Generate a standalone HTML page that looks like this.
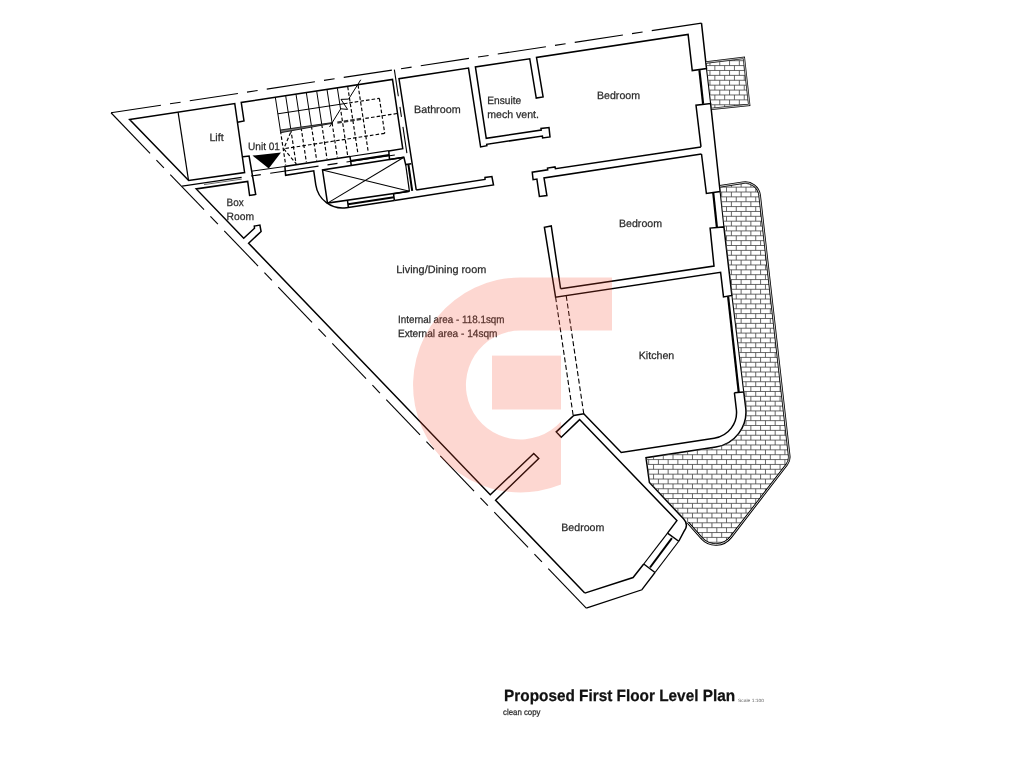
<!DOCTYPE html>
<html><head><meta charset="utf-8"><title>Proposed First Floor Level Plan</title>
<style>html,body{margin:0;padding:0;background:#fff;font-family:"Liberation Sans",sans-serif}svg{display:block;will-change:transform}text{text-rendering:geometricPrecision}</style></head>
<body>
<svg width="1024" height="768" viewBox="0 0 1024 768" font-family="Liberation Sans, sans-serif" stroke-linecap="butt" stroke-linejoin="miter"><defs><clipPath id="c1"><path d="M706.2,62.5 L743.9,57.9 L749.2,104.9 L711.8,108.8 Z"/></clipPath><clipPath id="c2"><path d="M720.09,186.29 L742.97,182.70 A14.50,14.50 0 0 1 759.64,195.39 L789.18,455.84 A12.00,12.00 0 0 1 786.77,464.52 L730.86,537.10 A19.00,19.00 0 0 1 701.85,538.40 L687.94,522.69 L649.4,482.5 L646,457.75 L715.9,447 A35.5,35.5 0 0 0 745.7,407.7 L743.75,391.9 L731.9,295.5 L723.9,226.9 L720.1,191.5 Z"/></clipPath><filter id="gs" x="0" y="0" width="1024" height="768" filterUnits="userSpaceOnUse"><feColorMatrix type="saturate" values="0"/></filter></defs>
<line x1="111.00" y1="112.75" x2="160.90" y2="105.17" stroke="#000" stroke-width="1.1" />
<line x1="170.00" y1="103.79" x2="180.60" y2="102.18" stroke="#000" stroke-width="1.1" />
<line x1="189.75" y1="100.79" x2="237.90" y2="93.48" stroke="#000" stroke-width="1.1" />
<line x1="247.00" y1="92.10" x2="257.60" y2="90.49" stroke="#000" stroke-width="1.1" />
<line x1="266.75" y1="89.10" x2="314.90" y2="81.79" stroke="#000" stroke-width="1.1" />
<line x1="324.00" y1="80.41" x2="334.60" y2="78.80" stroke="#000" stroke-width="1.1" />
<line x1="343.75" y1="77.41" x2="391.90" y2="70.10" stroke="#000" stroke-width="1.1" />
<line x1="401.00" y1="68.72" x2="411.60" y2="67.11" stroke="#000" stroke-width="1.1" />
<line x1="420.75" y1="65.72" x2="468.90" y2="58.41" stroke="#000" stroke-width="1.1" />
<line x1="478.00" y1="57.03" x2="488.60" y2="55.42" stroke="#000" stroke-width="1.1" />
<line x1="497.75" y1="54.03" x2="545.90" y2="46.72" stroke="#000" stroke-width="1.1" />
<line x1="555.00" y1="45.34" x2="565.60" y2="43.73" stroke="#000" stroke-width="1.1" />
<line x1="574.75" y1="42.34" x2="622.90" y2="35.03" stroke="#000" stroke-width="1.1" />
<line x1="632.00" y1="33.65" x2="642.60" y2="32.04" stroke="#000" stroke-width="1.1" />
<line x1="651.75" y1="30.65" x2="701.50" y2="23.10" stroke="#000" stroke-width="1.1" />
<line x1="111.00" y1="112.75" x2="150.05" y2="153.45" stroke="#000" stroke-width="1.1" />
<line x1="156.42" y1="160.09" x2="163.89" y2="167.88" stroke="#000" stroke-width="1.1" />
<line x1="170.26" y1="174.52" x2="204.05" y2="209.73" stroke="#000" stroke-width="1.1" />
<line x1="210.42" y1="216.37" x2="217.89" y2="224.16" stroke="#000" stroke-width="1.1" />
<line x1="224.26" y1="230.80" x2="258.05" y2="266.02" stroke="#000" stroke-width="1.1" />
<line x1="264.42" y1="272.66" x2="271.89" y2="280.45" stroke="#000" stroke-width="1.1" />
<line x1="278.26" y1="287.09" x2="312.05" y2="322.30" stroke="#000" stroke-width="1.1" />
<line x1="318.42" y1="328.94" x2="325.89" y2="336.73" stroke="#000" stroke-width="1.1" />
<line x1="332.26" y1="343.37" x2="366.05" y2="378.59" stroke="#000" stroke-width="1.1" />
<line x1="372.42" y1="385.22" x2="379.90" y2="393.02" stroke="#000" stroke-width="1.1" />
<line x1="386.26" y1="399.66" x2="420.05" y2="434.87" stroke="#000" stroke-width="1.1" />
<line x1="426.42" y1="441.51" x2="433.90" y2="449.30" stroke="#000" stroke-width="1.1" />
<line x1="440.27" y1="455.94" x2="474.05" y2="491.15" stroke="#000" stroke-width="1.1" />
<line x1="480.42" y1="497.79" x2="487.90" y2="505.59" stroke="#000" stroke-width="1.1" />
<line x1="494.27" y1="512.23" x2="528.05" y2="547.44" stroke="#000" stroke-width="1.1" />
<line x1="534.42" y1="554.08" x2="541.90" y2="561.87" stroke="#000" stroke-width="1.1" />
<line x1="548.27" y1="568.51" x2="586.25" y2="608.10" stroke="#000" stroke-width="1.1" />
<line x1="182.10" y1="186.10" x2="241.60" y2="177.40" stroke="#000" stroke-width="1.1" />
<line x1="251.00" y1="176.03" x2="260.80" y2="174.59" stroke="#000" stroke-width="1.1" />
<line x1="270.20" y1="173.22" x2="318.50" y2="166.16" stroke="#000" stroke-width="1.1" />
<line x1="327.50" y1="164.84" x2="337.50" y2="163.38" stroke="#000" stroke-width="1.1" />
<line x1="346.50" y1="162.06" x2="394.80" y2="155.00" stroke="#000" stroke-width="1.1" />
<line x1="204.00" y1="184.60" x2="241.80" y2="179.10" stroke="#000" stroke-width="0.6" />
<line x1="394.35" y1="69.70" x2="398.34" y2="96.25" stroke="#000" stroke-width="1.1" />
<line x1="399.94" y1="106.90" x2="401.44" y2="116.90" stroke="#000" stroke-width="1.1" />
<line x1="402.94" y1="126.90" x2="406.88" y2="153.20" stroke="#000" stroke-width="1.1" />
<polygon points="129.60,119.50 234.75,103.50 244.60,172.50 188.65,180.50" fill="none" stroke="#000" stroke-width="1.5" />
<line x1="178.10" y1="112.25" x2="188.50" y2="180.25" stroke="#000" stroke-width="1.25" />
<polyline points="237.50,122.25 244.00,121.00 241.25,102.50 392.50,79.40 402.75,148.75 388.75,151.00" fill="none" stroke="#000" stroke-width="1.5" />
<polyline points="243.00,156.75 249.10,156.10 255.70,194.50 249.60,195.50 247.70,181.40 196.20,188.90 243.70,238.25 254.50,228.20 254.30,226.10 259.90,225.10 261.10,231.50 248.60,243.20 490.25,494.75 533.75,453.50 538.75,458.50 495.60,500.25 584.75,593.10" fill="none" stroke="#000" stroke-width="1.5" />
<line x1="251.50" y1="171.20" x2="284.75" y2="166.50" stroke="#000" stroke-width="1.0" />
<polyline points="350.00,156.50 284.90,166.40 285.60,175.30 313.75,170.80 315.80,185.00" fill="none" stroke="#000" stroke-width="1.5" />
<path d="M315.8,185 A27,27 0 0 0 346.5,207.7 L394.4,200.4" fill="none" stroke="#000" stroke-width="1.5" />
<polyline points="403.90,157.30 322.50,170.00 327.50,203.10 409.40,191.20" fill="none" stroke="#000" stroke-width="1.5" />
<line x1="322.50" y1="170.00" x2="409.40" y2="191.20" stroke="#000" stroke-width="1.1" />
<line x1="327.50" y1="203.10" x2="403.90" y2="157.30" stroke="#000" stroke-width="1.1" />
<line x1="350.00" y1="156.50" x2="388.75" y2="150.70" stroke="#000" stroke-width="1.2000000000000002" />
<line x1="350.60" y1="160.90" x2="389.10" y2="155.10" stroke="#000" stroke-width="2.0" />
<line x1="350.00" y1="156.50" x2="351.30" y2="165.60" stroke="#000" stroke-width="1.5" />
<line x1="388.75" y1="150.70" x2="389.50" y2="159.50" stroke="#000" stroke-width="1.5" />
<polyline points="389.50,159.50 403.90,157.30 405.70,164.60 411.30,163.80" fill="none" stroke="#000" stroke-width="1.5" />
<line x1="347.50" y1="200.60" x2="348.40" y2="207.40" stroke="#000" stroke-width="1.5" />
<line x1="393.50" y1="193.75" x2="394.40" y2="200.40" stroke="#000" stroke-width="1.5" />
<line x1="348.00" y1="204.20" x2="393.90" y2="197.20" stroke="#000" stroke-width="2.0" />
<line x1="405.70" y1="164.60" x2="409.40" y2="191.20" stroke="#000" stroke-width="1.2000000000000002" />
<line x1="408.40" y1="164.30" x2="412.20" y2="190.80" stroke="#000" stroke-width="2.0" />
<line x1="393.50" y1="193.75" x2="409.40" y2="191.30" stroke="#000" stroke-width="1.5" />
<polyline points="416.25,190.00 399.00,78.75 468.50,68.10 480.60,146.90 486.90,145.70 486.70,144.30 542.40,136.00 542.60,137.90 550.00,136.90 549.00,127.50 541.00,128.50 541.25,130.10 486.25,138.30 475.40,66.90 529.75,58.75 536.25,98.10 543.10,96.90 536.50,57.50 688.10,34.40 692.25,70.60 706.50,68.60 701.50,23.10" fill="none" stroke="#000" stroke-width="1.5" />
<polyline points="416.25,190.00 485.00,179.40 485.00,177.50 491.90,176.50 493.50,185.00 394.40,200.40" fill="none" stroke="#000" stroke-width="1.5" />
<polyline points="701.00,146.90 555.40,168.75 555.00,166.90 547.50,168.10 547.70,169.80 532.25,172.25 533.10,179.75 536.90,179.10 539.40,196.50 546.90,195.60 544.00,177.90 701.50,154.00" fill="none" stroke="#000" stroke-width="1.5" />
<line x1="699.40" y1="70.20" x2="703.10" y2="103.90" stroke="#000" stroke-width="2.2" />
<line x1="706.50" y1="68.60" x2="710.60" y2="103.50" stroke="#000" stroke-width="1.1" />
<polyline points="701.00,146.90 696.00,105.25 710.60,103.50 720.10,191.50 706.40,193.50 701.50,154.00" fill="none" stroke="#000" stroke-width="1.5" />
<line x1="713.25" y1="193.00" x2="716.90" y2="227.30" stroke="#000" stroke-width="2.2" />
<line x1="720.10" y1="191.50" x2="723.90" y2="226.90" stroke="#000" stroke-width="1.1" />
<polyline points="560.60,288.75 551.25,226.00 544.40,227.25 555.60,297.25 720.60,272.25 723.50,296.90 731.90,295.50 723.90,226.90 710.10,228.10 714.00,266.00 560.60,288.75" fill="none" stroke="#000" stroke-width="1.5" />
<line x1="728.10" y1="296.30" x2="738.75" y2="392.30" stroke="#000" stroke-width="2.2" />
<line x1="731.90" y1="295.50" x2="743.75" y2="391.90" stroke="#000" stroke-width="1.1" />
<line x1="734.40" y1="392.75" x2="743.75" y2="391.90" stroke="#000" stroke-width="1.5" />
<path d="M734.4,392.75 L736.3,409 A26,26 0 0 1 714.2,438.2 L621.25,452.5 L583.75,413.75 L573.75,415.4 L556.25,431.9 L561.25,437.25 L579.6,419.6 L676.9,520.6 L667.5,533.1" fill="none" stroke="#000" stroke-width="1.5" />
<path d="M743.75,391.9 L745.7,407.7 A35.5,35.5 0 0 1 715.9,447 L646,457.75 L649.4,482.5 L683.5,518.8 Q688.8,524.5 684.5,530.5 L678.75,541.25" fill="none" stroke="#000" stroke-width="1.5" />
<line x1="555.60" y1="297.25" x2="573.10" y2="415.00" stroke="#000" stroke-width="1.1" stroke-dasharray="5 2.6"/>
<line x1="566.25" y1="296.00" x2="583.75" y2="413.75" stroke="#000" stroke-width="1.1" stroke-dasharray="5 2.6"/>
<polyline points="643.75,564.00 633.10,577.50 584.75,593.10" fill="none" stroke="#000" stroke-width="1.5" />
<polyline points="586.25,608.10 641.90,589.75 655.00,572.50" fill="none" stroke="#000" stroke-width="1.3" />
<line x1="667.50" y1="533.10" x2="678.75" y2="541.25" stroke="#000" stroke-width="1.5" />
<line x1="643.75" y1="564.00" x2="655.00" y2="572.50" stroke="#000" stroke-width="1.5" />
<line x1="667.50" y1="533.10" x2="643.75" y2="564.00" stroke="#000" stroke-width="1.2000000000000002" />
<line x1="678.75" y1="541.25" x2="655.00" y2="572.50" stroke="#000" stroke-width="1.2000000000000002" />
<line x1="671.90" y1="538.10" x2="650.00" y2="567.50" stroke="#000" stroke-width="2.0" />
<line x1="275.40" y1="97.70" x2="280.44" y2="130.72" stroke="#000" stroke-width="1.0" />
<line x1="285.73" y1="96.12" x2="290.77" y2="129.14" stroke="#000" stroke-width="1.0" />
<line x1="296.06" y1="94.55" x2="301.10" y2="127.57" stroke="#000" stroke-width="1.0" />
<line x1="306.39" y1="92.97" x2="311.43" y2="125.99" stroke="#000" stroke-width="1.0" />
<line x1="316.72" y1="91.39" x2="321.76" y2="124.41" stroke="#000" stroke-width="1.0" />
<line x1="327.05" y1="89.82" x2="332.09" y2="122.83" stroke="#000" stroke-width="1.0" />
<line x1="337.39" y1="88.24" x2="340.55" y2="109.00" stroke="#000" stroke-width="1.0" />
<line x1="341.01" y1="111.96" x2="347.69" y2="155.76" stroke="#000" stroke-width="1.15" stroke-dasharray="3.6 2.1"/>
<line x1="347.72" y1="86.66" x2="358.02" y2="154.18" stroke="#000" stroke-width="1.15" stroke-dasharray="3.6 2.1"/>
<line x1="358.05" y1="85.08" x2="368.35" y2="152.61" stroke="#000" stroke-width="1.15" stroke-dasharray="3.6 2.1"/>
<line x1="280.44" y1="130.72" x2="285.71" y2="165.22" stroke="#000" stroke-width="1.15" stroke-dasharray="3.6 2.1"/>
<line x1="290.77" y1="129.14" x2="296.04" y2="163.64" stroke="#000" stroke-width="1.15" stroke-dasharray="3.6 2.1"/>
<line x1="301.10" y1="127.57" x2="306.37" y2="162.07" stroke="#000" stroke-width="1.15" stroke-dasharray="3.6 2.1"/>
<line x1="311.43" y1="125.99" x2="316.70" y2="160.49" stroke="#000" stroke-width="1.15" stroke-dasharray="3.6 2.1"/>
<line x1="321.76" y1="124.41" x2="327.03" y2="158.91" stroke="#000" stroke-width="1.15" stroke-dasharray="3.6 2.1"/>
<line x1="332.09" y1="122.83" x2="337.36" y2="157.34" stroke="#000" stroke-width="1.15" stroke-dasharray="3.6 2.1"/>
<line x1="277.86" y1="113.81" x2="347.56" y2="103.18" stroke="#000" stroke-width="1.0" />
<line x1="349.04" y1="102.95" x2="379.39" y2="98.32" stroke="#000" stroke-width="1.15" stroke-dasharray="3.6 2.1"/>
<line x1="379.39" y1="98.32" x2="384.73" y2="133.31" stroke="#000" stroke-width="1.15" stroke-dasharray="3.6 2.1"/>
<line x1="384.73" y1="133.31" x2="283.79" y2="148.72" stroke="#000" stroke-width="1.15" stroke-dasharray="3.6 2.1"/>
<line x1="365.35" y1="118.37" x2="397.78" y2="113.42" stroke="#000" stroke-width="1.15" stroke-dasharray="3.6 2.1"/>
<polygon points="280.33,130.03 332.31,122.60 332.42,123.29 280.74,132.70" fill="#777" stroke="#111" stroke-width="0.9"/>
<line x1="337.36" y1="122.54" x2="363.56" y2="118.54" stroke="#333" stroke-width="2.2" stroke-dasharray="4.5 2"/>
<line x1="290.60" y1="132.50" x2="283.75" y2="148.75" stroke="#000" stroke-width="1.15" stroke-dasharray="3.6 2.1"/>
<line x1="283.75" y1="148.75" x2="296.25" y2="163.75" stroke="#000" stroke-width="1.15" stroke-dasharray="3.6 2.1"/>
<polyline points="360.75,79.75 348.60,99.10 341.00,99.40 347.60,109.40 340.75,108.80 329.50,127.00" fill="none" stroke="#000" stroke-width="1.0" />
<polygon points="252.5,155.6 281,152.5 268.75,168.5" fill="#000"/>
<path clip-path="url(#c1)" d="M700.0,50.88H756.0M690.35,50.88v4.90M700.15,50.88v4.90M709.95,50.88v4.90M719.75,50.88v4.90M729.55,50.88v4.90M739.35,50.88v4.90M749.15,50.88v4.90M758.95,50.88v4.90M700.0,55.78H756.0M695.25,55.78v4.90M705.05,55.78v4.90M714.85,55.78v4.90M724.65,55.78v4.90M734.45,55.78v4.90M744.25,55.78v4.90M754.05,55.78v4.90M763.85,55.78v4.90M700.0,60.68H756.0M690.35,60.68v4.90M700.15,60.68v4.90M709.95,60.68v4.90M719.75,60.68v4.90M729.55,60.68v4.90M739.35,60.68v4.90M749.15,60.68v4.90M758.95,60.68v4.90M700.0,65.58H756.0M695.25,65.58v4.90M705.05,65.58v4.90M714.85,65.58v4.90M724.65,65.58v4.90M734.45,65.58v4.90M744.25,65.58v4.90M754.05,65.58v4.90M763.85,65.58v4.90M700.0,70.48H756.0M690.35,70.48v4.90M700.15,70.48v4.90M709.95,70.48v4.90M719.75,70.48v4.90M729.55,70.48v4.90M739.35,70.48v4.90M749.15,70.48v4.90M758.95,70.48v4.90M700.0,75.38H756.0M695.25,75.38v4.90M705.05,75.38v4.90M714.85,75.38v4.90M724.65,75.38v4.90M734.45,75.38v4.90M744.25,75.38v4.90M754.05,75.38v4.90M763.85,75.38v4.90M700.0,80.28H756.0M690.35,80.28v4.90M700.15,80.28v4.90M709.95,80.28v4.90M719.75,80.28v4.90M729.55,80.28v4.90M739.35,80.28v4.90M749.15,80.28v4.90M758.95,80.28v4.90M700.0,85.18H756.0M695.25,85.18v4.90M705.05,85.18v4.90M714.85,85.18v4.90M724.65,85.18v4.90M734.45,85.18v4.90M744.25,85.18v4.90M754.05,85.18v4.90M763.85,85.18v4.90M700.0,90.08H756.0M690.35,90.08v4.90M700.15,90.08v4.90M709.95,90.08v4.90M719.75,90.08v4.90M729.55,90.08v4.90M739.35,90.08v4.90M749.15,90.08v4.90M758.95,90.08v4.90M700.0,94.98H756.0M695.25,94.98v4.90M705.05,94.98v4.90M714.85,94.98v4.90M724.65,94.98v4.90M734.45,94.98v4.90M744.25,94.98v4.90M754.05,94.98v4.90M763.85,94.98v4.90M700.0,99.88H756.0M690.35,99.88v4.90M700.15,99.88v4.90M709.95,99.88v4.90M719.75,99.88v4.90M729.55,99.88v4.90M739.35,99.88v4.90M749.15,99.88v4.90M758.95,99.88v4.90M700.0,104.78H756.0M695.25,104.78v4.90M705.05,104.78v4.90M714.85,104.78v4.90M724.65,104.78v4.90M734.45,104.78v4.90M744.25,104.78v4.90M754.05,104.78v4.90M763.85,104.78v4.90M700.0,109.68H756.0M690.35,109.68v4.90M700.15,109.68v4.90M709.95,109.68v4.90M719.75,109.68v4.90M729.55,109.68v4.90M739.35,109.68v4.90M749.15,109.68v4.90M758.95,109.68v4.90M700.0,114.58H756.0M695.25,114.58v4.90M705.05,114.58v4.90M714.85,114.58v4.90M724.65,114.58v4.90M734.45,114.58v4.90M744.25,114.58v4.90M754.05,114.58v4.90M763.85,114.58v4.90" fill="none" stroke="#444" stroke-width="0.8"/>
<path d="M706.2,62.5 L743.9,57.9 L749.2,104.9 L711.8,108.8" fill="none" stroke="#111" stroke-width="2.3" />
<path d="M706.2,62.5 L743.9,57.9 L749.2,104.9 L711.8,108.8" fill="none" stroke="#fff" stroke-width="0.7" />
<path clip-path="url(#c2)" d="M640.0,172.54H796.0M634.10,172.54v4.87M643.83,172.54v4.87M653.56,172.54v4.87M663.29,172.54v4.87M673.02,172.54v4.87M682.75,172.54v4.87M692.48,172.54v4.87M702.21,172.54v4.87M711.94,172.54v4.87M721.67,172.54v4.87M731.40,172.54v4.87M741.13,172.54v4.87M750.86,172.54v4.87M760.59,172.54v4.87M770.32,172.54v4.87M780.05,172.54v4.87M789.78,172.54v4.87M799.51,172.54v4.87M640.0,177.41H796.0M638.96,177.41v4.87M648.69,177.41v4.87M658.42,177.41v4.87M668.15,177.41v4.87M677.88,177.41v4.87M687.62,177.41v4.87M697.35,177.41v4.87M707.07,177.41v4.87M716.80,177.41v4.87M726.53,177.41v4.87M736.26,177.41v4.87M746.00,177.41v4.87M755.73,177.41v4.87M765.46,177.41v4.87M775.18,177.41v4.87M784.91,177.41v4.87M794.64,177.41v4.87M804.38,177.41v4.87M640.0,182.27H796.0M634.10,182.27v4.87M643.83,182.27v4.87M653.56,182.27v4.87M663.29,182.27v4.87M673.02,182.27v4.87M682.75,182.27v4.87M692.48,182.27v4.87M702.21,182.27v4.87M711.94,182.27v4.87M721.67,182.27v4.87M731.40,182.27v4.87M741.13,182.27v4.87M750.86,182.27v4.87M760.59,182.27v4.87M770.32,182.27v4.87M780.05,182.27v4.87M789.78,182.27v4.87M799.51,182.27v4.87M640.0,187.13H796.0M638.96,187.13v4.87M648.69,187.13v4.87M658.42,187.13v4.87M668.15,187.13v4.87M677.88,187.13v4.87M687.62,187.13v4.87M697.35,187.13v4.87M707.07,187.13v4.87M716.80,187.13v4.87M726.53,187.13v4.87M736.26,187.13v4.87M746.00,187.13v4.87M755.73,187.13v4.87M765.46,187.13v4.87M775.18,187.13v4.87M784.91,187.13v4.87M794.64,187.13v4.87M804.38,187.13v4.87M640.0,192.00H796.0M634.10,192.00v4.87M643.83,192.00v4.87M653.56,192.00v4.87M663.29,192.00v4.87M673.02,192.00v4.87M682.75,192.00v4.87M692.48,192.00v4.87M702.21,192.00v4.87M711.94,192.00v4.87M721.67,192.00v4.87M731.40,192.00v4.87M741.13,192.00v4.87M750.86,192.00v4.87M760.59,192.00v4.87M770.32,192.00v4.87M780.05,192.00v4.87M789.78,192.00v4.87M799.51,192.00v4.87M640.0,196.87H796.0M638.96,196.87v4.87M648.69,196.87v4.87M658.42,196.87v4.87M668.15,196.87v4.87M677.88,196.87v4.87M687.62,196.87v4.87M697.35,196.87v4.87M707.07,196.87v4.87M716.80,196.87v4.87M726.53,196.87v4.87M736.26,196.87v4.87M746.00,196.87v4.87M755.73,196.87v4.87M765.46,196.87v4.87M775.18,196.87v4.87M784.91,196.87v4.87M794.64,196.87v4.87M804.38,196.87v4.87M640.0,201.73H796.0M634.10,201.73v4.87M643.83,201.73v4.87M653.56,201.73v4.87M663.29,201.73v4.87M673.02,201.73v4.87M682.75,201.73v4.87M692.48,201.73v4.87M702.21,201.73v4.87M711.94,201.73v4.87M721.67,201.73v4.87M731.40,201.73v4.87M741.13,201.73v4.87M750.86,201.73v4.87M760.59,201.73v4.87M770.32,201.73v4.87M780.05,201.73v4.87M789.78,201.73v4.87M799.51,201.73v4.87M640.0,206.59H796.0M638.96,206.59v4.87M648.69,206.59v4.87M658.42,206.59v4.87M668.15,206.59v4.87M677.88,206.59v4.87M687.62,206.59v4.87M697.35,206.59v4.87M707.07,206.59v4.87M716.80,206.59v4.87M726.53,206.59v4.87M736.26,206.59v4.87M746.00,206.59v4.87M755.73,206.59v4.87M765.46,206.59v4.87M775.18,206.59v4.87M784.91,206.59v4.87M794.64,206.59v4.87M804.38,206.59v4.87M640.0,211.46H796.0M634.10,211.46v4.87M643.83,211.46v4.87M653.56,211.46v4.87M663.29,211.46v4.87M673.02,211.46v4.87M682.75,211.46v4.87M692.48,211.46v4.87M702.21,211.46v4.87M711.94,211.46v4.87M721.67,211.46v4.87M731.40,211.46v4.87M741.13,211.46v4.87M750.86,211.46v4.87M760.59,211.46v4.87M770.32,211.46v4.87M780.05,211.46v4.87M789.78,211.46v4.87M799.51,211.46v4.87M640.0,216.32H796.0M638.96,216.32v4.87M648.69,216.32v4.87M658.42,216.32v4.87M668.15,216.32v4.87M677.88,216.32v4.87M687.62,216.32v4.87M697.35,216.32v4.87M707.07,216.32v4.87M716.80,216.32v4.87M726.53,216.32v4.87M736.26,216.32v4.87M746.00,216.32v4.87M755.73,216.32v4.87M765.46,216.32v4.87M775.18,216.32v4.87M784.91,216.32v4.87M794.64,216.32v4.87M804.38,216.32v4.87M640.0,221.19H796.0M634.10,221.19v4.87M643.83,221.19v4.87M653.56,221.19v4.87M663.29,221.19v4.87M673.02,221.19v4.87M682.75,221.19v4.87M692.48,221.19v4.87M702.21,221.19v4.87M711.94,221.19v4.87M721.67,221.19v4.87M731.40,221.19v4.87M741.13,221.19v4.87M750.86,221.19v4.87M760.59,221.19v4.87M770.32,221.19v4.87M780.05,221.19v4.87M789.78,221.19v4.87M799.51,221.19v4.87M640.0,226.06H796.0M638.96,226.06v4.87M648.69,226.06v4.87M658.42,226.06v4.87M668.15,226.06v4.87M677.88,226.06v4.87M687.62,226.06v4.87M697.35,226.06v4.87M707.07,226.06v4.87M716.80,226.06v4.87M726.53,226.06v4.87M736.26,226.06v4.87M746.00,226.06v4.87M755.73,226.06v4.87M765.46,226.06v4.87M775.18,226.06v4.87M784.91,226.06v4.87M794.64,226.06v4.87M804.38,226.06v4.87M640.0,230.92H796.0M634.10,230.92v4.87M643.83,230.92v4.87M653.56,230.92v4.87M663.29,230.92v4.87M673.02,230.92v4.87M682.75,230.92v4.87M692.48,230.92v4.87M702.21,230.92v4.87M711.94,230.92v4.87M721.67,230.92v4.87M731.40,230.92v4.87M741.13,230.92v4.87M750.86,230.92v4.87M760.59,230.92v4.87M770.32,230.92v4.87M780.05,230.92v4.87M789.78,230.92v4.87M799.51,230.92v4.87M640.0,235.78H796.0M638.96,235.78v4.87M648.69,235.78v4.87M658.42,235.78v4.87M668.15,235.78v4.87M677.88,235.78v4.87M687.62,235.78v4.87M697.35,235.78v4.87M707.07,235.78v4.87M716.80,235.78v4.87M726.53,235.78v4.87M736.26,235.78v4.87M746.00,235.78v4.87M755.73,235.78v4.87M765.46,235.78v4.87M775.18,235.78v4.87M784.91,235.78v4.87M794.64,235.78v4.87M804.38,235.78v4.87M640.0,240.65H796.0M634.10,240.65v4.87M643.83,240.65v4.87M653.56,240.65v4.87M663.29,240.65v4.87M673.02,240.65v4.87M682.75,240.65v4.87M692.48,240.65v4.87M702.21,240.65v4.87M711.94,240.65v4.87M721.67,240.65v4.87M731.40,240.65v4.87M741.13,240.65v4.87M750.86,240.65v4.87M760.59,240.65v4.87M770.32,240.65v4.87M780.05,240.65v4.87M789.78,240.65v4.87M799.51,240.65v4.87M640.0,245.51H796.0M638.96,245.51v4.87M648.69,245.51v4.87M658.42,245.51v4.87M668.15,245.51v4.87M677.88,245.51v4.87M687.62,245.51v4.87M697.35,245.51v4.87M707.07,245.51v4.87M716.80,245.51v4.87M726.53,245.51v4.87M736.26,245.51v4.87M746.00,245.51v4.87M755.73,245.51v4.87M765.46,245.51v4.87M775.18,245.51v4.87M784.91,245.51v4.87M794.64,245.51v4.87M804.38,245.51v4.87M640.0,250.38H796.0M634.10,250.38v4.87M643.83,250.38v4.87M653.56,250.38v4.87M663.29,250.38v4.87M673.02,250.38v4.87M682.75,250.38v4.87M692.48,250.38v4.87M702.21,250.38v4.87M711.94,250.38v4.87M721.67,250.38v4.87M731.40,250.38v4.87M741.13,250.38v4.87M750.86,250.38v4.87M760.59,250.38v4.87M770.32,250.38v4.87M780.05,250.38v4.87M789.78,250.38v4.87M799.51,250.38v4.87M640.0,255.25H796.0M638.96,255.25v4.87M648.69,255.25v4.87M658.42,255.25v4.87M668.15,255.25v4.87M677.88,255.25v4.87M687.62,255.25v4.87M697.35,255.25v4.87M707.07,255.25v4.87M716.80,255.25v4.87M726.53,255.25v4.87M736.26,255.25v4.87M746.00,255.25v4.87M755.73,255.25v4.87M765.46,255.25v4.87M775.18,255.25v4.87M784.91,255.25v4.87M794.64,255.25v4.87M804.38,255.25v4.87M640.0,260.11H796.0M634.10,260.11v4.87M643.83,260.11v4.87M653.56,260.11v4.87M663.29,260.11v4.87M673.02,260.11v4.87M682.75,260.11v4.87M692.48,260.11v4.87M702.21,260.11v4.87M711.94,260.11v4.87M721.67,260.11v4.87M731.40,260.11v4.87M741.13,260.11v4.87M750.86,260.11v4.87M760.59,260.11v4.87M770.32,260.11v4.87M780.05,260.11v4.87M789.78,260.11v4.87M799.51,260.11v4.87M640.0,264.98H796.0M638.96,264.98v4.87M648.69,264.98v4.87M658.42,264.98v4.87M668.15,264.98v4.87M677.88,264.98v4.87M687.62,264.98v4.87M697.35,264.98v4.87M707.07,264.98v4.87M716.80,264.98v4.87M726.53,264.98v4.87M736.26,264.98v4.87M746.00,264.98v4.87M755.73,264.98v4.87M765.46,264.98v4.87M775.18,264.98v4.87M784.91,264.98v4.87M794.64,264.98v4.87M804.38,264.98v4.87M640.0,269.84H796.0M634.10,269.84v4.87M643.83,269.84v4.87M653.56,269.84v4.87M663.29,269.84v4.87M673.02,269.84v4.87M682.75,269.84v4.87M692.48,269.84v4.87M702.21,269.84v4.87M711.94,269.84v4.87M721.67,269.84v4.87M731.40,269.84v4.87M741.13,269.84v4.87M750.86,269.84v4.87M760.59,269.84v4.87M770.32,269.84v4.87M780.05,269.84v4.87M789.78,269.84v4.87M799.51,269.84v4.87M640.0,274.70H796.0M638.96,274.70v4.87M648.69,274.70v4.87M658.42,274.70v4.87M668.15,274.70v4.87M677.88,274.70v4.87M687.62,274.70v4.87M697.35,274.70v4.87M707.07,274.70v4.87M716.80,274.70v4.87M726.53,274.70v4.87M736.26,274.70v4.87M746.00,274.70v4.87M755.73,274.70v4.87M765.46,274.70v4.87M775.18,274.70v4.87M784.91,274.70v4.87M794.64,274.70v4.87M804.38,274.70v4.87M640.0,279.57H796.0M634.10,279.57v4.87M643.83,279.57v4.87M653.56,279.57v4.87M663.29,279.57v4.87M673.02,279.57v4.87M682.75,279.57v4.87M692.48,279.57v4.87M702.21,279.57v4.87M711.94,279.57v4.87M721.67,279.57v4.87M731.40,279.57v4.87M741.13,279.57v4.87M750.86,279.57v4.87M760.59,279.57v4.87M770.32,279.57v4.87M780.05,279.57v4.87M789.78,279.57v4.87M799.51,279.57v4.87M640.0,284.44H796.0M638.96,284.44v4.87M648.69,284.44v4.87M658.42,284.44v4.87M668.15,284.44v4.87M677.88,284.44v4.87M687.62,284.44v4.87M697.35,284.44v4.87M707.07,284.44v4.87M716.80,284.44v4.87M726.53,284.44v4.87M736.26,284.44v4.87M746.00,284.44v4.87M755.73,284.44v4.87M765.46,284.44v4.87M775.18,284.44v4.87M784.91,284.44v4.87M794.64,284.44v4.87M804.38,284.44v4.87M640.0,289.30H796.0M634.10,289.30v4.87M643.83,289.30v4.87M653.56,289.30v4.87M663.29,289.30v4.87M673.02,289.30v4.87M682.75,289.30v4.87M692.48,289.30v4.87M702.21,289.30v4.87M711.94,289.30v4.87M721.67,289.30v4.87M731.40,289.30v4.87M741.13,289.30v4.87M750.86,289.30v4.87M760.59,289.30v4.87M770.32,289.30v4.87M780.05,289.30v4.87M789.78,289.30v4.87M799.51,289.30v4.87M640.0,294.17H796.0M638.96,294.17v4.87M648.69,294.17v4.87M658.42,294.17v4.87M668.15,294.17v4.87M677.88,294.17v4.87M687.62,294.17v4.87M697.35,294.17v4.87M707.07,294.17v4.87M716.80,294.17v4.87M726.53,294.17v4.87M736.26,294.17v4.87M746.00,294.17v4.87M755.73,294.17v4.87M765.46,294.17v4.87M775.18,294.17v4.87M784.91,294.17v4.87M794.64,294.17v4.87M804.38,294.17v4.87M640.0,299.03H796.0M634.10,299.03v4.87M643.83,299.03v4.87M653.56,299.03v4.87M663.29,299.03v4.87M673.02,299.03v4.87M682.75,299.03v4.87M692.48,299.03v4.87M702.21,299.03v4.87M711.94,299.03v4.87M721.67,299.03v4.87M731.40,299.03v4.87M741.13,299.03v4.87M750.86,299.03v4.87M760.59,299.03v4.87M770.32,299.03v4.87M780.05,299.03v4.87M789.78,299.03v4.87M799.51,299.03v4.87M640.0,303.89H796.0M638.96,303.89v4.87M648.69,303.89v4.87M658.42,303.89v4.87M668.15,303.89v4.87M677.88,303.89v4.87M687.62,303.89v4.87M697.35,303.89v4.87M707.07,303.89v4.87M716.80,303.89v4.87M726.53,303.89v4.87M736.26,303.89v4.87M746.00,303.89v4.87M755.73,303.89v4.87M765.46,303.89v4.87M775.18,303.89v4.87M784.91,303.89v4.87M794.64,303.89v4.87M804.38,303.89v4.87M640.0,308.76H796.0M634.10,308.76v4.87M643.83,308.76v4.87M653.56,308.76v4.87M663.29,308.76v4.87M673.02,308.76v4.87M682.75,308.76v4.87M692.48,308.76v4.87M702.21,308.76v4.87M711.94,308.76v4.87M721.67,308.76v4.87M731.40,308.76v4.87M741.13,308.76v4.87M750.86,308.76v4.87M760.59,308.76v4.87M770.32,308.76v4.87M780.05,308.76v4.87M789.78,308.76v4.87M799.51,308.76v4.87M640.0,313.62H796.0M638.96,313.62v4.87M648.69,313.62v4.87M658.42,313.62v4.87M668.15,313.62v4.87M677.88,313.62v4.87M687.62,313.62v4.87M697.35,313.62v4.87M707.07,313.62v4.87M716.80,313.62v4.87M726.53,313.62v4.87M736.26,313.62v4.87M746.00,313.62v4.87M755.73,313.62v4.87M765.46,313.62v4.87M775.18,313.62v4.87M784.91,313.62v4.87M794.64,313.62v4.87M804.38,313.62v4.87M640.0,318.49H796.0M634.10,318.49v4.87M643.83,318.49v4.87M653.56,318.49v4.87M663.29,318.49v4.87M673.02,318.49v4.87M682.75,318.49v4.87M692.48,318.49v4.87M702.21,318.49v4.87M711.94,318.49v4.87M721.67,318.49v4.87M731.40,318.49v4.87M741.13,318.49v4.87M750.86,318.49v4.87M760.59,318.49v4.87M770.32,318.49v4.87M780.05,318.49v4.87M789.78,318.49v4.87M799.51,318.49v4.87M640.0,323.36H796.0M638.96,323.36v4.87M648.69,323.36v4.87M658.42,323.36v4.87M668.15,323.36v4.87M677.88,323.36v4.87M687.62,323.36v4.87M697.35,323.36v4.87M707.07,323.36v4.87M716.80,323.36v4.87M726.53,323.36v4.87M736.26,323.36v4.87M746.00,323.36v4.87M755.73,323.36v4.87M765.46,323.36v4.87M775.18,323.36v4.87M784.91,323.36v4.87M794.64,323.36v4.87M804.38,323.36v4.87M640.0,328.22H796.0M634.10,328.22v4.87M643.83,328.22v4.87M653.56,328.22v4.87M663.29,328.22v4.87M673.02,328.22v4.87M682.75,328.22v4.87M692.48,328.22v4.87M702.21,328.22v4.87M711.94,328.22v4.87M721.67,328.22v4.87M731.40,328.22v4.87M741.13,328.22v4.87M750.86,328.22v4.87M760.59,328.22v4.87M770.32,328.22v4.87M780.05,328.22v4.87M789.78,328.22v4.87M799.51,328.22v4.87M640.0,333.09H796.0M638.96,333.09v4.87M648.69,333.09v4.87M658.42,333.09v4.87M668.15,333.09v4.87M677.88,333.09v4.87M687.62,333.09v4.87M697.35,333.09v4.87M707.07,333.09v4.87M716.80,333.09v4.87M726.53,333.09v4.87M736.26,333.09v4.87M746.00,333.09v4.87M755.73,333.09v4.87M765.46,333.09v4.87M775.18,333.09v4.87M784.91,333.09v4.87M794.64,333.09v4.87M804.38,333.09v4.87M640.0,337.95H796.0M634.10,337.95v4.87M643.83,337.95v4.87M653.56,337.95v4.87M663.29,337.95v4.87M673.02,337.95v4.87M682.75,337.95v4.87M692.48,337.95v4.87M702.21,337.95v4.87M711.94,337.95v4.87M721.67,337.95v4.87M731.40,337.95v4.87M741.13,337.95v4.87M750.86,337.95v4.87M760.59,337.95v4.87M770.32,337.95v4.87M780.05,337.95v4.87M789.78,337.95v4.87M799.51,337.95v4.87M640.0,342.81H796.0M638.96,342.81v4.87M648.69,342.81v4.87M658.42,342.81v4.87M668.15,342.81v4.87M677.88,342.81v4.87M687.62,342.81v4.87M697.35,342.81v4.87M707.07,342.81v4.87M716.80,342.81v4.87M726.53,342.81v4.87M736.26,342.81v4.87M746.00,342.81v4.87M755.73,342.81v4.87M765.46,342.81v4.87M775.18,342.81v4.87M784.91,342.81v4.87M794.64,342.81v4.87M804.38,342.81v4.87M640.0,347.68H796.0M634.10,347.68v4.87M643.83,347.68v4.87M653.56,347.68v4.87M663.29,347.68v4.87M673.02,347.68v4.87M682.75,347.68v4.87M692.48,347.68v4.87M702.21,347.68v4.87M711.94,347.68v4.87M721.67,347.68v4.87M731.40,347.68v4.87M741.13,347.68v4.87M750.86,347.68v4.87M760.59,347.68v4.87M770.32,347.68v4.87M780.05,347.68v4.87M789.78,347.68v4.87M799.51,347.68v4.87M640.0,352.55H796.0M638.96,352.55v4.87M648.69,352.55v4.87M658.42,352.55v4.87M668.15,352.55v4.87M677.88,352.55v4.87M687.62,352.55v4.87M697.35,352.55v4.87M707.07,352.55v4.87M716.80,352.55v4.87M726.53,352.55v4.87M736.26,352.55v4.87M746.00,352.55v4.87M755.73,352.55v4.87M765.46,352.55v4.87M775.18,352.55v4.87M784.91,352.55v4.87M794.64,352.55v4.87M804.38,352.55v4.87M640.0,357.41H796.0M634.10,357.41v4.87M643.83,357.41v4.87M653.56,357.41v4.87M663.29,357.41v4.87M673.02,357.41v4.87M682.75,357.41v4.87M692.48,357.41v4.87M702.21,357.41v4.87M711.94,357.41v4.87M721.67,357.41v4.87M731.40,357.41v4.87M741.13,357.41v4.87M750.86,357.41v4.87M760.59,357.41v4.87M770.32,357.41v4.87M780.05,357.41v4.87M789.78,357.41v4.87M799.51,357.41v4.87M640.0,362.27H796.0M638.96,362.27v4.87M648.69,362.27v4.87M658.42,362.27v4.87M668.15,362.27v4.87M677.88,362.27v4.87M687.62,362.27v4.87M697.35,362.27v4.87M707.07,362.27v4.87M716.80,362.27v4.87M726.53,362.27v4.87M736.26,362.27v4.87M746.00,362.27v4.87M755.73,362.27v4.87M765.46,362.27v4.87M775.18,362.27v4.87M784.91,362.27v4.87M794.64,362.27v4.87M804.38,362.27v4.87M640.0,367.14H796.0M634.10,367.14v4.87M643.83,367.14v4.87M653.56,367.14v4.87M663.29,367.14v4.87M673.02,367.14v4.87M682.75,367.14v4.87M692.48,367.14v4.87M702.21,367.14v4.87M711.94,367.14v4.87M721.67,367.14v4.87M731.40,367.14v4.87M741.13,367.14v4.87M750.86,367.14v4.87M760.59,367.14v4.87M770.32,367.14v4.87M780.05,367.14v4.87M789.78,367.14v4.87M799.51,367.14v4.87M640.0,372.00H796.0M638.96,372.00v4.87M648.69,372.00v4.87M658.42,372.00v4.87M668.15,372.00v4.87M677.88,372.00v4.87M687.62,372.00v4.87M697.35,372.00v4.87M707.07,372.00v4.87M716.80,372.00v4.87M726.53,372.00v4.87M736.26,372.00v4.87M746.00,372.00v4.87M755.73,372.00v4.87M765.46,372.00v4.87M775.18,372.00v4.87M784.91,372.00v4.87M794.64,372.00v4.87M804.38,372.00v4.87M640.0,376.87H796.0M634.10,376.87v4.87M643.83,376.87v4.87M653.56,376.87v4.87M663.29,376.87v4.87M673.02,376.87v4.87M682.75,376.87v4.87M692.48,376.87v4.87M702.21,376.87v4.87M711.94,376.87v4.87M721.67,376.87v4.87M731.40,376.87v4.87M741.13,376.87v4.87M750.86,376.87v4.87M760.59,376.87v4.87M770.32,376.87v4.87M780.05,376.87v4.87M789.78,376.87v4.87M799.51,376.87v4.87M640.0,381.74H796.0M638.96,381.74v4.87M648.69,381.74v4.87M658.42,381.74v4.87M668.15,381.74v4.87M677.88,381.74v4.87M687.62,381.74v4.87M697.35,381.74v4.87M707.07,381.74v4.87M716.80,381.74v4.87M726.53,381.74v4.87M736.26,381.74v4.87M746.00,381.74v4.87M755.73,381.74v4.87M765.46,381.74v4.87M775.18,381.74v4.87M784.91,381.74v4.87M794.64,381.74v4.87M804.38,381.74v4.87M640.0,386.60H796.0M634.10,386.60v4.87M643.83,386.60v4.87M653.56,386.60v4.87M663.29,386.60v4.87M673.02,386.60v4.87M682.75,386.60v4.87M692.48,386.60v4.87M702.21,386.60v4.87M711.94,386.60v4.87M721.67,386.60v4.87M731.40,386.60v4.87M741.13,386.60v4.87M750.86,386.60v4.87M760.59,386.60v4.87M770.32,386.60v4.87M780.05,386.60v4.87M789.78,386.60v4.87M799.51,386.60v4.87M640.0,391.47H796.0M638.96,391.47v4.87M648.69,391.47v4.87M658.42,391.47v4.87M668.15,391.47v4.87M677.88,391.47v4.87M687.62,391.47v4.87M697.35,391.47v4.87M707.07,391.47v4.87M716.80,391.47v4.87M726.53,391.47v4.87M736.26,391.47v4.87M746.00,391.47v4.87M755.73,391.47v4.87M765.46,391.47v4.87M775.18,391.47v4.87M784.91,391.47v4.87M794.64,391.47v4.87M804.38,391.47v4.87M640.0,396.33H796.0M634.10,396.33v4.87M643.83,396.33v4.87M653.56,396.33v4.87M663.29,396.33v4.87M673.02,396.33v4.87M682.75,396.33v4.87M692.48,396.33v4.87M702.21,396.33v4.87M711.94,396.33v4.87M721.67,396.33v4.87M731.40,396.33v4.87M741.13,396.33v4.87M750.86,396.33v4.87M760.59,396.33v4.87M770.32,396.33v4.87M780.05,396.33v4.87M789.78,396.33v4.87M799.51,396.33v4.87M640.0,401.20H796.0M638.96,401.20v4.87M648.69,401.20v4.87M658.42,401.20v4.87M668.15,401.20v4.87M677.88,401.20v4.87M687.62,401.20v4.87M697.35,401.20v4.87M707.07,401.20v4.87M716.80,401.20v4.87M726.53,401.20v4.87M736.26,401.20v4.87M746.00,401.20v4.87M755.73,401.20v4.87M765.46,401.20v4.87M775.18,401.20v4.87M784.91,401.20v4.87M794.64,401.20v4.87M804.38,401.20v4.87M640.0,406.06H796.0M634.10,406.06v4.87M643.83,406.06v4.87M653.56,406.06v4.87M663.29,406.06v4.87M673.02,406.06v4.87M682.75,406.06v4.87M692.48,406.06v4.87M702.21,406.06v4.87M711.94,406.06v4.87M721.67,406.06v4.87M731.40,406.06v4.87M741.13,406.06v4.87M750.86,406.06v4.87M760.59,406.06v4.87M770.32,406.06v4.87M780.05,406.06v4.87M789.78,406.06v4.87M799.51,406.06v4.87M640.0,410.93H796.0M638.96,410.93v4.87M648.69,410.93v4.87M658.42,410.93v4.87M668.15,410.93v4.87M677.88,410.93v4.87M687.62,410.93v4.87M697.35,410.93v4.87M707.07,410.93v4.87M716.80,410.93v4.87M726.53,410.93v4.87M736.26,410.93v4.87M746.00,410.93v4.87M755.73,410.93v4.87M765.46,410.93v4.87M775.18,410.93v4.87M784.91,410.93v4.87M794.64,410.93v4.87M804.38,410.93v4.87M640.0,415.79H796.0M634.10,415.79v4.87M643.83,415.79v4.87M653.56,415.79v4.87M663.29,415.79v4.87M673.02,415.79v4.87M682.75,415.79v4.87M692.48,415.79v4.87M702.21,415.79v4.87M711.94,415.79v4.87M721.67,415.79v4.87M731.40,415.79v4.87M741.13,415.79v4.87M750.86,415.79v4.87M760.59,415.79v4.87M770.32,415.79v4.87M780.05,415.79v4.87M789.78,415.79v4.87M799.51,415.79v4.87M640.0,420.65H796.0M638.96,420.65v4.87M648.69,420.65v4.87M658.42,420.65v4.87M668.15,420.65v4.87M677.88,420.65v4.87M687.62,420.65v4.87M697.35,420.65v4.87M707.07,420.65v4.87M716.80,420.65v4.87M726.53,420.65v4.87M736.26,420.65v4.87M746.00,420.65v4.87M755.73,420.65v4.87M765.46,420.65v4.87M775.18,420.65v4.87M784.91,420.65v4.87M794.64,420.65v4.87M804.38,420.65v4.87M640.0,425.52H796.0M634.10,425.52v4.87M643.83,425.52v4.87M653.56,425.52v4.87M663.29,425.52v4.87M673.02,425.52v4.87M682.75,425.52v4.87M692.48,425.52v4.87M702.21,425.52v4.87M711.94,425.52v4.87M721.67,425.52v4.87M731.40,425.52v4.87M741.13,425.52v4.87M750.86,425.52v4.87M760.59,425.52v4.87M770.32,425.52v4.87M780.05,425.52v4.87M789.78,425.52v4.87M799.51,425.52v4.87M640.0,430.38H796.0M638.96,430.38v4.87M648.69,430.38v4.87M658.42,430.38v4.87M668.15,430.38v4.87M677.88,430.38v4.87M687.62,430.38v4.87M697.35,430.38v4.87M707.07,430.38v4.87M716.80,430.38v4.87M726.53,430.38v4.87M736.26,430.38v4.87M746.00,430.38v4.87M755.73,430.38v4.87M765.46,430.38v4.87M775.18,430.38v4.87M784.91,430.38v4.87M794.64,430.38v4.87M804.38,430.38v4.87M640.0,435.25H796.0M634.10,435.25v4.87M643.83,435.25v4.87M653.56,435.25v4.87M663.29,435.25v4.87M673.02,435.25v4.87M682.75,435.25v4.87M692.48,435.25v4.87M702.21,435.25v4.87M711.94,435.25v4.87M721.67,435.25v4.87M731.40,435.25v4.87M741.13,435.25v4.87M750.86,435.25v4.87M760.59,435.25v4.87M770.32,435.25v4.87M780.05,435.25v4.87M789.78,435.25v4.87M799.51,435.25v4.87M640.0,440.12H796.0M638.96,440.12v4.87M648.69,440.12v4.87M658.42,440.12v4.87M668.15,440.12v4.87M677.88,440.12v4.87M687.62,440.12v4.87M697.35,440.12v4.87M707.07,440.12v4.87M716.80,440.12v4.87M726.53,440.12v4.87M736.26,440.12v4.87M746.00,440.12v4.87M755.73,440.12v4.87M765.46,440.12v4.87M775.18,440.12v4.87M784.91,440.12v4.87M794.64,440.12v4.87M804.38,440.12v4.87M640.0,444.98H796.0M634.10,444.98v4.87M643.83,444.98v4.87M653.56,444.98v4.87M663.29,444.98v4.87M673.02,444.98v4.87M682.75,444.98v4.87M692.48,444.98v4.87M702.21,444.98v4.87M711.94,444.98v4.87M721.67,444.98v4.87M731.40,444.98v4.87M741.13,444.98v4.87M750.86,444.98v4.87M760.59,444.98v4.87M770.32,444.98v4.87M780.05,444.98v4.87M789.78,444.98v4.87M799.51,444.98v4.87M640.0,449.85H796.0M638.96,449.85v4.87M648.69,449.85v4.87M658.42,449.85v4.87M668.15,449.85v4.87M677.88,449.85v4.87M687.62,449.85v4.87M697.35,449.85v4.87M707.07,449.85v4.87M716.80,449.85v4.87M726.53,449.85v4.87M736.26,449.85v4.87M746.00,449.85v4.87M755.73,449.85v4.87M765.46,449.85v4.87M775.18,449.85v4.87M784.91,449.85v4.87M794.64,449.85v4.87M804.38,449.85v4.87M640.0,454.71H796.0M634.10,454.71v4.87M643.83,454.71v4.87M653.56,454.71v4.87M663.29,454.71v4.87M673.02,454.71v4.87M682.75,454.71v4.87M692.48,454.71v4.87M702.21,454.71v4.87M711.94,454.71v4.87M721.67,454.71v4.87M731.40,454.71v4.87M741.13,454.71v4.87M750.86,454.71v4.87M760.59,454.71v4.87M770.32,454.71v4.87M780.05,454.71v4.87M789.78,454.71v4.87M799.51,454.71v4.87M640.0,459.57H796.0M638.96,459.57v4.87M648.69,459.57v4.87M658.42,459.57v4.87M668.15,459.57v4.87M677.88,459.57v4.87M687.62,459.57v4.87M697.35,459.57v4.87M707.07,459.57v4.87M716.80,459.57v4.87M726.53,459.57v4.87M736.26,459.57v4.87M746.00,459.57v4.87M755.73,459.57v4.87M765.46,459.57v4.87M775.18,459.57v4.87M784.91,459.57v4.87M794.64,459.57v4.87M804.38,459.57v4.87M640.0,464.44H796.0M634.10,464.44v4.87M643.83,464.44v4.87M653.56,464.44v4.87M663.29,464.44v4.87M673.02,464.44v4.87M682.75,464.44v4.87M692.48,464.44v4.87M702.21,464.44v4.87M711.94,464.44v4.87M721.67,464.44v4.87M731.40,464.44v4.87M741.13,464.44v4.87M750.86,464.44v4.87M760.59,464.44v4.87M770.32,464.44v4.87M780.05,464.44v4.87M789.78,464.44v4.87M799.51,464.44v4.87M640.0,469.31H796.0M638.96,469.31v4.87M648.69,469.31v4.87M658.42,469.31v4.87M668.15,469.31v4.87M677.88,469.31v4.87M687.62,469.31v4.87M697.35,469.31v4.87M707.07,469.31v4.87M716.80,469.31v4.87M726.53,469.31v4.87M736.26,469.31v4.87M746.00,469.31v4.87M755.73,469.31v4.87M765.46,469.31v4.87M775.18,469.31v4.87M784.91,469.31v4.87M794.64,469.31v4.87M804.38,469.31v4.87M640.0,474.17H796.0M634.10,474.17v4.87M643.83,474.17v4.87M653.56,474.17v4.87M663.29,474.17v4.87M673.02,474.17v4.87M682.75,474.17v4.87M692.48,474.17v4.87M702.21,474.17v4.87M711.94,474.17v4.87M721.67,474.17v4.87M731.40,474.17v4.87M741.13,474.17v4.87M750.86,474.17v4.87M760.59,474.17v4.87M770.32,474.17v4.87M780.05,474.17v4.87M789.78,474.17v4.87M799.51,474.17v4.87M640.0,479.04H796.0M638.96,479.04v4.87M648.69,479.04v4.87M658.42,479.04v4.87M668.15,479.04v4.87M677.88,479.04v4.87M687.62,479.04v4.87M697.35,479.04v4.87M707.07,479.04v4.87M716.80,479.04v4.87M726.53,479.04v4.87M736.26,479.04v4.87M746.00,479.04v4.87M755.73,479.04v4.87M765.46,479.04v4.87M775.18,479.04v4.87M784.91,479.04v4.87M794.64,479.04v4.87M804.38,479.04v4.87M640.0,483.90H796.0M634.10,483.90v4.87M643.83,483.90v4.87M653.56,483.90v4.87M663.29,483.90v4.87M673.02,483.90v4.87M682.75,483.90v4.87M692.48,483.90v4.87M702.21,483.90v4.87M711.94,483.90v4.87M721.67,483.90v4.87M731.40,483.90v4.87M741.13,483.90v4.87M750.86,483.90v4.87M760.59,483.90v4.87M770.32,483.90v4.87M780.05,483.90v4.87M789.78,483.90v4.87M799.51,483.90v4.87M640.0,488.76H796.0M638.96,488.76v4.87M648.69,488.76v4.87M658.42,488.76v4.87M668.15,488.76v4.87M677.88,488.76v4.87M687.62,488.76v4.87M697.35,488.76v4.87M707.07,488.76v4.87M716.80,488.76v4.87M726.53,488.76v4.87M736.26,488.76v4.87M746.00,488.76v4.87M755.73,488.76v4.87M765.46,488.76v4.87M775.18,488.76v4.87M784.91,488.76v4.87M794.64,488.76v4.87M804.38,488.76v4.87M640.0,493.63H796.0M634.10,493.63v4.87M643.83,493.63v4.87M653.56,493.63v4.87M663.29,493.63v4.87M673.02,493.63v4.87M682.75,493.63v4.87M692.48,493.63v4.87M702.21,493.63v4.87M711.94,493.63v4.87M721.67,493.63v4.87M731.40,493.63v4.87M741.13,493.63v4.87M750.86,493.63v4.87M760.59,493.63v4.87M770.32,493.63v4.87M780.05,493.63v4.87M789.78,493.63v4.87M799.51,493.63v4.87M640.0,498.50H796.0M638.96,498.50v4.87M648.69,498.50v4.87M658.42,498.50v4.87M668.15,498.50v4.87M677.88,498.50v4.87M687.62,498.50v4.87M697.35,498.50v4.87M707.07,498.50v4.87M716.80,498.50v4.87M726.53,498.50v4.87M736.26,498.50v4.87M746.00,498.50v4.87M755.73,498.50v4.87M765.46,498.50v4.87M775.18,498.50v4.87M784.91,498.50v4.87M794.64,498.50v4.87M804.38,498.50v4.87M640.0,503.36H796.0M634.10,503.36v4.87M643.83,503.36v4.87M653.56,503.36v4.87M663.29,503.36v4.87M673.02,503.36v4.87M682.75,503.36v4.87M692.48,503.36v4.87M702.21,503.36v4.87M711.94,503.36v4.87M721.67,503.36v4.87M731.40,503.36v4.87M741.13,503.36v4.87M750.86,503.36v4.87M760.59,503.36v4.87M770.32,503.36v4.87M780.05,503.36v4.87M789.78,503.36v4.87M799.51,503.36v4.87M640.0,508.23H796.0M638.96,508.23v4.87M648.69,508.23v4.87M658.42,508.23v4.87M668.15,508.23v4.87M677.88,508.23v4.87M687.62,508.23v4.87M697.35,508.23v4.87M707.07,508.23v4.87M716.80,508.23v4.87M726.53,508.23v4.87M736.26,508.23v4.87M746.00,508.23v4.87M755.73,508.23v4.87M765.46,508.23v4.87M775.18,508.23v4.87M784.91,508.23v4.87M794.64,508.23v4.87M804.38,508.23v4.87M640.0,513.09H796.0M634.10,513.09v4.87M643.83,513.09v4.87M653.56,513.09v4.87M663.29,513.09v4.87M673.02,513.09v4.87M682.75,513.09v4.87M692.48,513.09v4.87M702.21,513.09v4.87M711.94,513.09v4.87M721.67,513.09v4.87M731.40,513.09v4.87M741.13,513.09v4.87M750.86,513.09v4.87M760.59,513.09v4.87M770.32,513.09v4.87M780.05,513.09v4.87M789.78,513.09v4.87M799.51,513.09v4.87M640.0,517.96H796.0M638.96,517.96v4.87M648.69,517.96v4.87M658.42,517.96v4.87M668.15,517.96v4.87M677.88,517.96v4.87M687.62,517.96v4.87M697.35,517.96v4.87M707.07,517.96v4.87M716.80,517.96v4.87M726.53,517.96v4.87M736.26,517.96v4.87M746.00,517.96v4.87M755.73,517.96v4.87M765.46,517.96v4.87M775.18,517.96v4.87M784.91,517.96v4.87M794.64,517.96v4.87M804.38,517.96v4.87M640.0,522.82H796.0M634.10,522.82v4.87M643.83,522.82v4.87M653.56,522.82v4.87M663.29,522.82v4.87M673.02,522.82v4.87M682.75,522.82v4.87M692.48,522.82v4.87M702.21,522.82v4.87M711.94,522.82v4.87M721.67,522.82v4.87M731.40,522.82v4.87M741.13,522.82v4.87M750.86,522.82v4.87M760.59,522.82v4.87M770.32,522.82v4.87M780.05,522.82v4.87M789.78,522.82v4.87M799.51,522.82v4.87M640.0,527.68H796.0M638.96,527.68v4.87M648.69,527.68v4.87M658.42,527.68v4.87M668.15,527.68v4.87M677.88,527.68v4.87M687.62,527.68v4.87M697.35,527.68v4.87M707.07,527.68v4.87M716.80,527.68v4.87M726.53,527.68v4.87M736.26,527.68v4.87M746.00,527.68v4.87M755.73,527.68v4.87M765.46,527.68v4.87M775.18,527.68v4.87M784.91,527.68v4.87M794.64,527.68v4.87M804.38,527.68v4.87M640.0,532.55H796.0M634.10,532.55v4.87M643.83,532.55v4.87M653.56,532.55v4.87M663.29,532.55v4.87M673.02,532.55v4.87M682.75,532.55v4.87M692.48,532.55v4.87M702.21,532.55v4.87M711.94,532.55v4.87M721.67,532.55v4.87M731.40,532.55v4.87M741.13,532.55v4.87M750.86,532.55v4.87M760.59,532.55v4.87M770.32,532.55v4.87M780.05,532.55v4.87M789.78,532.55v4.87M799.51,532.55v4.87M640.0,537.41H796.0M638.96,537.41v4.87M648.69,537.41v4.87M658.42,537.41v4.87M668.15,537.41v4.87M677.88,537.41v4.87M687.62,537.41v4.87M697.35,537.41v4.87M707.07,537.41v4.87M716.80,537.41v4.87M726.53,537.41v4.87M736.26,537.41v4.87M746.00,537.41v4.87M755.73,537.41v4.87M765.46,537.41v4.87M775.18,537.41v4.87M784.91,537.41v4.87M794.64,537.41v4.87M804.38,537.41v4.87M640.0,542.28H796.0M634.10,542.28v4.87M643.83,542.28v4.87M653.56,542.28v4.87M663.29,542.28v4.87M673.02,542.28v4.87M682.75,542.28v4.87M692.48,542.28v4.87M702.21,542.28v4.87M711.94,542.28v4.87M721.67,542.28v4.87M731.40,542.28v4.87M741.13,542.28v4.87M750.86,542.28v4.87M760.59,542.28v4.87M770.32,542.28v4.87M780.05,542.28v4.87M789.78,542.28v4.87M799.51,542.28v4.87M640.0,547.14H796.0M638.96,547.14v4.87M648.69,547.14v4.87M658.42,547.14v4.87M668.15,547.14v4.87M677.88,547.14v4.87M687.62,547.14v4.87M697.35,547.14v4.87M707.07,547.14v4.87M716.80,547.14v4.87M726.53,547.14v4.87M736.26,547.14v4.87M746.00,547.14v4.87M755.73,547.14v4.87M765.46,547.14v4.87M775.18,547.14v4.87M784.91,547.14v4.87M794.64,547.14v4.87M804.38,547.14v4.87M640.0,552.01H796.0M634.10,552.01v4.87M643.83,552.01v4.87M653.56,552.01v4.87M663.29,552.01v4.87M673.02,552.01v4.87M682.75,552.01v4.87M692.48,552.01v4.87M702.21,552.01v4.87M711.94,552.01v4.87M721.67,552.01v4.87M731.40,552.01v4.87M741.13,552.01v4.87M750.86,552.01v4.87M760.59,552.01v4.87M770.32,552.01v4.87M780.05,552.01v4.87M789.78,552.01v4.87M799.51,552.01v4.87" fill="none" stroke="#444" stroke-width="0.8"/>
<path d="M720.09,186.29 L742.97,182.70 A14.50,14.50 0 0 1 759.64,195.39 L789.18,455.84 A12.00,12.00 0 0 1 786.77,464.52 L730.86,537.10 A19.00,19.00 0 0 1 701.85,538.40 L687.94,522.69" fill="none" stroke="#000" stroke-width="2.6" />
<path d="M720.09,186.29 L742.97,182.70 A14.50,14.50 0 0 1 759.64,195.39 L789.18,455.84 A12.00,12.00 0 0 1 786.77,464.52 L730.86,537.10 A19.00,19.00 0 0 1 701.85,538.40 L687.94,522.69" fill="none" stroke="#fff" stroke-width="0.8" />
<g filter="url(#gs)">
<text x="209.40" y="141.00" font-size="10.7" font-weight="normal" fill="#2b2b2b" stroke="#2b2b2b" stroke-width="0.25" textLength="14.30" lengthAdjust="spacingAndGlyphs">Lift</text>
<text x="248.00" y="149.75" font-size="10.7" font-weight="normal" fill="#2b2b2b" stroke="#2b2b2b" stroke-width="0.25" textLength="32.00" lengthAdjust="spacingAndGlyphs">Unit 01</text>
<text x="226.50" y="205.60" font-size="10.7" font-weight="normal" fill="#2b2b2b" stroke="#2b2b2b" stroke-width="0.25" textLength="17.20" lengthAdjust="spacingAndGlyphs">Box</text>
<text x="226.50" y="219.60" font-size="10.7" font-weight="normal" fill="#2b2b2b" stroke="#2b2b2b" stroke-width="0.25" textLength="27.50" lengthAdjust="spacingAndGlyphs">Room</text>
<text x="414.00" y="112.75" font-size="10.7" font-weight="normal" fill="#2b2b2b" stroke="#2b2b2b" stroke-width="0.25" textLength="46.60" lengthAdjust="spacingAndGlyphs">Bathroom</text>
<text x="487.25" y="103.75" font-size="10.7" font-weight="normal" fill="#2b2b2b" stroke="#2b2b2b" stroke-width="0.25" textLength="34.00" lengthAdjust="spacingAndGlyphs">Ensuite</text>
<text x="487.25" y="117.75" font-size="10.7" font-weight="normal" fill="#2b2b2b" stroke="#2b2b2b" stroke-width="0.25" textLength="51.75" lengthAdjust="spacingAndGlyphs">mech vent.</text>
<text x="597.00" y="98.75" font-size="10.7" font-weight="normal" fill="#2b2b2b" stroke="#2b2b2b" stroke-width="0.25" textLength="43.00" lengthAdjust="spacingAndGlyphs">Bedroom</text>
<text x="619.00" y="227.00" font-size="10.7" font-weight="normal" fill="#2b2b2b" stroke="#2b2b2b" stroke-width="0.25" textLength="43.00" lengthAdjust="spacingAndGlyphs">Bedroom</text>
<text x="638.75" y="359.25" font-size="10.7" font-weight="normal" fill="#2b2b2b" stroke="#2b2b2b" stroke-width="0.25" textLength="35.50" lengthAdjust="spacingAndGlyphs">Kitchen</text>
<text x="561.25" y="531.25" font-size="10.7" font-weight="normal" fill="#2b2b2b" stroke="#2b2b2b" stroke-width="0.25" textLength="43.10" lengthAdjust="spacingAndGlyphs">Bedroom</text>
<text x="396.25" y="273.00" font-size="10.7" font-weight="normal" fill="#2b2b2b" stroke="#2b2b2b" stroke-width="0.25" textLength="90.00" lengthAdjust="spacingAndGlyphs">Living/Dining room</text>
<text x="398.00" y="323.00" font-size="10.7" font-weight="normal" fill="#2b2b2b" stroke="#2b2b2b" stroke-width="0.25" textLength="106.50" lengthAdjust="spacingAndGlyphs">Internal area - 118.1sqm</text>
<text x="398.00" y="337.00" font-size="10.7" font-weight="normal" fill="#2b2b2b" stroke="#2b2b2b" stroke-width="0.25" textLength="99.50" lengthAdjust="spacingAndGlyphs">External area - 14sqm</text>
<text x="504.10" y="701.00" font-size="16.2" font-weight="bold" fill="#111" stroke="#111" stroke-width="0.25" textLength="231.00" lengthAdjust="spacingAndGlyphs">Proposed First Floor Level Plan</text>
<text x="503.00" y="715.00" font-size="8.6" font-weight="normal" fill="#2b2b2b" stroke="#2b2b2b" stroke-width="0.25" textLength="37.50" lengthAdjust="spacingAndGlyphs">clean copy</text>
<text x="738" y="702" font-size="4.6" fill="#666" textLength="26" lengthAdjust="spacingAndGlyphs">Scale 1:100</text>
</g>
<g fill="rgb(245,75,45)" fill-opacity="0.22"><path d="M520.5,277.5 H612 V330.5 H520.5 A54.5,54.5 0 1 0 561,421.4 V484.6 A107.5,107.5 0 1 1 520.5,277.5 Z"/><rect x="492" y="355.6" width="69" height="53.9"/></g>
</svg>
</body></html>
